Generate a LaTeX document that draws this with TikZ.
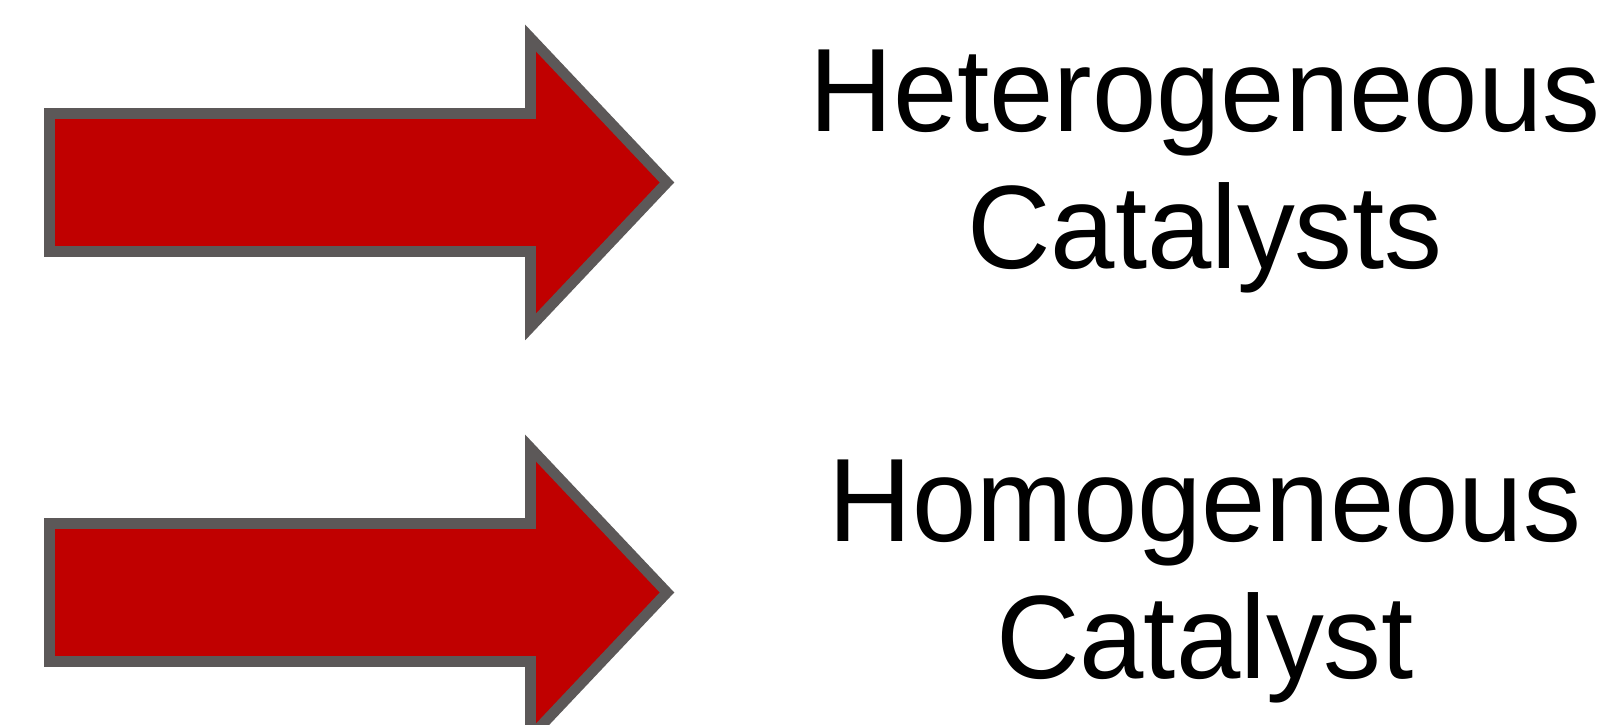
\documentclass[tikz,border=0pt]{standalone}
\usepackage{fontspec}
\setmainfont[FakeStretch=0.975]{Liberation Sans}
\usetikzlibrary{calc}
\definecolor{arrowRed}{HTML}{C00000}
\definecolor{arrowEdge}{HTML}{5C5858}

\begin{document}
\begin{tikzpicture}[
  bigarrow/.style={draw=arrowEdge, fill=arrowRed, line width=6pt, line join=miter},
  catlabel/.style={align=center, text=black, inner sep=0pt, font=\fontsize{67.5}{78}\selectfont}
]
\useasboundingbox (0,0) rectangle (32.3,14.5);

\foreach \id/\y/\txt in {
  het/10.85/Heterogeneous\\Catalysts,
  hom/2.65/Homogeneous\\Catalyst
} {
  \draw[bigarrow] (0.99,\y-1.38) -- (10.61,\y-1.38) -- (10.61,\y-2.89) -- (13.34,\y)
    -- (10.61,\y+2.89) -- (10.61,\y+1.38) -- (0.99,\y+1.38) -- cycle;
  \node[catlabel] (label\id) at (24.1,\y+0.22) {\txt};
}
\end{tikzpicture}
\end{document}
